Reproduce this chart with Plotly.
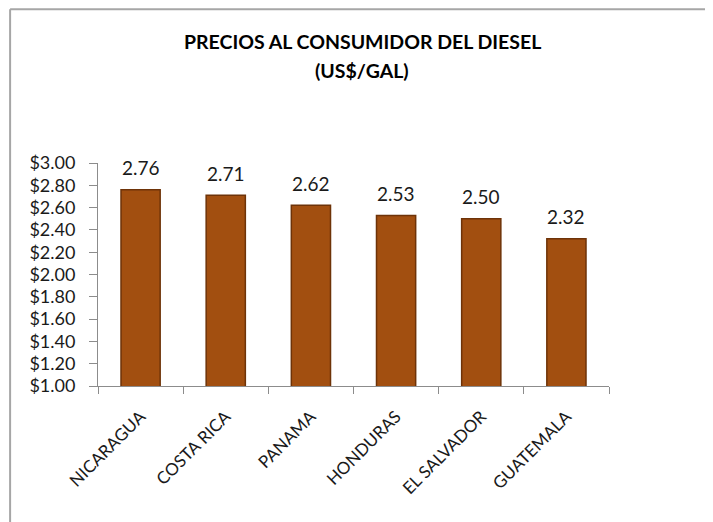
import plotly.graph_objects as go

paises = ["NICARAGUA", "COSTA RICA", "PANAMA", "HONDURAS", "EL SALVADOR", "GUATEMALA"]
precios = [2.76, 2.71, 2.62, 2.53, 2.50, 2.32]

fuente = "Lato, 'Open Sans', sans-serif"

fig = go.Figure()
fig.add_trace(go.Bar(
    x=paises, y=precios,
    marker=dict(color="#A24F10", line=dict(color="#6E3308", width=1.5)),
    cliponaxis=False,
))

# etiquetas de valor sobre cada barra
for p, v in zip(paises, precios):
    fig.add_annotation(x=p, y=v, text="%.2f" % v, showarrow=False,
                       yanchor="middle", yshift=22,
                       font=dict(family=fuente, size=19, color="#1a1a1a"))

fig.update_layout(
    width=705, height=514,
    margin=dict(l=90, r=104, t=155, b=136),
    paper_bgcolor="white", plot_bgcolor="white",
    showlegend=False,
    bargap=0.54,
    font=dict(family=fuente, color="black"),
    xaxis=dict(showline=True, linecolor="#8c8c8c", linewidth=1,
               ticks="outside", tickson="boundaries", ticklen=7, tickcolor="#8c8c8c",
               tickangle=-45, ticklabelstandoff=13,
               tickfont=dict(size=17, family=fuente, color="#1a1a1a")),
    yaxis=dict(range=[1, 3], dtick=0.2, tickprefix="$", tickformat=".2f",
               showline=True, linecolor="#8c8c8c", linewidth=1,
               ticks="outside", ticklen=8, tickcolor="#8c8c8c",
               ticklabelstandoff=10,
               showgrid=False, zeroline=False,
               tickfont=dict(size=18, family=fuente, color="#1a1a1a")),
)

# titulo en dos lineas
fig.add_annotation(text="<b>PRECIOS AL CONSUMIDOR DEL DIESEL</b>", xref="paper", yref="paper",
                   x=0.517, y=1.543, yanchor="middle", showarrow=False,
                   font=dict(size=19.5, family=fuente))
fig.add_annotation(text="<b>(US$/GAL)</b>", xref="paper", yref="paper",
                   x=0.517, y=1.413, yanchor="middle", showarrow=False,
                   font=dict(size=19.5, family=fuente))

# borde del grafico (solo izquierda y arriba visibles)
fig.add_shape(type="line", xref="paper", yref="paper", x0=-0.172, x1=-0.172, y0=-0.7, y1=1.69,
              line=dict(color="#a6a6a6", width=2))
fig.add_shape(type="line", xref="paper", yref="paper", x0=-0.172, x1=1.3, y0=1.69, y1=1.69,
              line=dict(color="#a6a6a6", width=2))

fig.write_html("out.html")
